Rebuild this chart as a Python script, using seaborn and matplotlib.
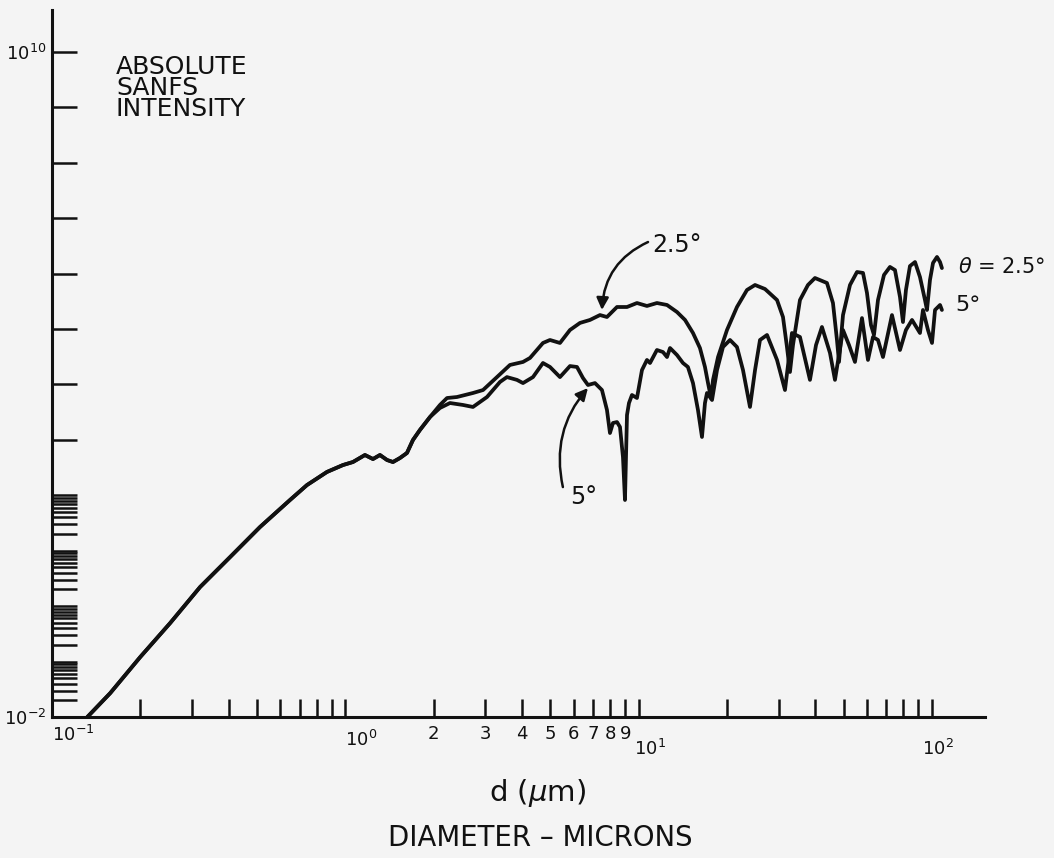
import matplotlib
matplotlib.use('Agg')
import matplotlib.pyplot as plt
import matplotlib.ticker as mticker
from matplotlib.transforms import ScaledTranslation
import numpy as np
import pandas as pd
import seaborn as sns

# diameter d (microns) and absolute SANFS intensity
# part of the curve where both angles coincide
d_common = [0.132, 0.158, 0.200, 0.253, 0.320, 0.405, 0.512, 0.648, 0.740, 0.866,
            0.982, 1.062, 1.167, 1.243, 1.313, 1.388, 1.454, 1.536, 1.623, 1.701,
            1.797, 1.945]
i_common = [1.0e-2, 2.7e-2, 0.121, 0.497, 2.22, 7.71, 26.8, 82.4, 153, 264,
            352, 399, 534, 452, 534, 434, 399, 471, 581, 995,
            1510, 2590]

# theta = 2.5 deg
d_25 = [2.103, 2.223, 2.403, 2.725, 2.949, 3.290, 3.643, 4.036, 4.264, 4.721,
        4.988, 5.395, 5.836, 6.313, 6.828, 7.386, 7.802, 8.441, 9.131, 9.874,
        10.68, 11.55, 12.50, 13.52, 14.40, 15.33, 16.19, 16.84, 17.25, 17.66,
        17.94, 18.66, 20.02, 21.65, 23.42, 24.95, 26.98, 29.65, 31.07, 32.06,
        32.82, 33.61, 35.50, 37.80, 39.94, 43.88, 46.00, 47.47, 48.23, 49.77,
        52.58, 55.55, 58.23, 60.08, 62.00, 63.48, 65.50, 68.66, 71.96, 74.85,
        77.85, 79.69, 81.58, 84.19, 87.60, 91.07, 94.73, 96.23, 98.51, 100.9,
        104.1, 106.6, 108.2]
i_25 = [4270, 5700, 5940, 7020, 7940, 13600, 22500, 25500, 30100, 56100,
        63500, 56100, 96200, 1.29e5, 1.46e5, 1.79e5, 1.65e5, 2.50e5, 2.50e5, 2.95e5,
        2.61e5, 2.95e5, 2.72e5, 2.03e5, 1.46e5, 84900, 45500, 20700, 10600, 5700,
        12100, 31300, 96200, 2.50e5, 5.07e5, 6.24e5, 5.28e5, 3.34e5, 1.65e5, 47400,
        16800, 51500, 3.34e5, 6.24e5, 8.34e5, 6.78e5, 2.95e5, 63500, 25500, 1.79e5,
        6.24e5, 1.07e6, 1.03e6, 4.48e5, 1.18e5, 78200, 3.34e5, 9.46e5, 1.32e6, 1.16e6,
        3.79e5, 1.34e5, 5.07e5, 1.37e6, 1.62e6, 8.69e5, 3.34e5, 2.21e5, 7.67e5, 1.56e6,
        2.00e6, 1.62e6, 1.26e6]

# theta = 5 deg
d_5 = [2.103, 2.275, 2.520, 2.725, 3.042, 3.369, 3.558, 3.849, 4.036, 4.365,
       4.721, 4.988, 5.395, 5.836, 6.166, 6.462, 6.722, 7.101, 7.502, 7.802,
       7.989, 8.179, 8.441, 8.642, 8.847, 8.988, 9.131, 9.275, 9.495, 9.874,
       10.27, 10.68, 10.94, 11.55, 12.11, 12.50, 12.80, 13.52, 14.17, 14.73,
       15.33, 15.94, 16.45, 16.84, 17.11, 17.80, 18.51, 19.40, 20.50, 21.65,
       22.70, 23.98, 24.95, 25.94, 27.41, 29.65, 31.56, 33.34, 35.50, 38.40,
       40.27, 42.19, 44.94, 46.73, 49.77, 52.17, 54.67, 57.77, 60.55, 62.98,
       65.50, 68.12, 73.11, 77.85, 81.58, 85.56, 91.07, 93.26, 96.98, 100.1,
       102.5, 106.6, 108.2]
i_5 = [3770, 4630, 4270, 3930, 5940, 11100, 13600, 12100, 10600, 13600,
       24400, 20700, 13600, 21500, 20700, 13100, 9790, 10600, 7940, 3470,
       1330, 2020, 2100, 1710, 491, 82.4, 2810, 4630, 6460, 5700,
       18200, 27700, 24400, 41900, 38500, 31300, 45500, 34000, 24400, 20700,
       10600, 3470, 1130, 4630, 7020, 5250, 18200, 47400, 63500, 47400,
       18200, 3930, 18200, 63500, 78200, 27700, 7940, 84900, 71900, 12100,
       51500, 1.09e5, 37000, 12100, 96200, 51500, 25500, 1.58e5, 27700, 71900,
       63500, 31300, 1.79e5, 41900, 96200, 1.46e5, 84900, 2.21e5, 96200, 56100,
       2.21e5, 2.72e5, 2.21e5]

x_major = [0.1, 1, 10, 100]
x_major_labels = ['$10^{-1}$', '$10^{0}$', '$10^{1}$', '$10^{2}$']

bg = '#f4f4f4'
ink = '#111111'

sns.set_theme(style='ticks')
plt.rcParams['font.family'] = ['DejaVu Sans']

fig = plt.figure(figsize=(10.54, 8.58), dpi=100, facecolor=bg)
ax = fig.add_axes([0.0493, 0.1643, 0.8852, 0.8240], facecolor=bg)

df25 = pd.DataFrame({'d': d_common + d_25, 'I': i_common + i_25})
df5 = pd.DataFrame({'d': d_common + d_5, 'I': i_common + i_5})
sns.lineplot(data=df25, x='d', y='I', ax=ax, color=ink, lw=2.7, sort=False, estimator=None)
sns.lineplot(data=df5, x='d', y='I', ax=ax, color=ink, lw=2.7, sort=False, estimator=None)

ax.set_xscale('log')
ax.set_yscale('log')
ax.set_xlim(0.1, 151.7)
ax.set_ylim(1e-2, 5.7e10)
ax.set_xlabel('')
ax.set_ylabel('')

for s in ['top', 'right']:
    ax.spines[s].set_visible(False)
for s in ['left', 'bottom']:
    ax.spines[s].set_linewidth(2.2)
    ax.spines[s].set_color(ink)

# x ticks
ax.xaxis.set_major_locator(mticker.FixedLocator(x_major))
ax.xaxis.set_major_formatter(mticker.FixedFormatter(x_major_labels))
ax.xaxis.set_minor_locator(mticker.LogLocator(base=10, subs=np.arange(2, 10), numticks=20))
ax.xaxis.set_minor_formatter(mticker.FuncFormatter(
    lambda v, p: '%d' % round(v) if 1.5 < v < 9.5 else ''))
ax.tick_params(axis='x', which='both', direction='in', length=13, width=1.8,
               color=ink, labelsize=13, pad=6, labelcolor=ink)

# y ticks
y_major = [10.0 ** k for k in range(-2, 11)]
y_minor = [m * 10.0 ** k for k in range(-2, 2) for m in range(2, 10)]
ax.yaxis.set_major_locator(mticker.FixedLocator(y_major))
ax.yaxis.set_minor_locator(mticker.FixedLocator(y_minor))
ax.yaxis.set_major_formatter(mticker.FuncFormatter(
    lambda v, p: {1e-2: '$10^{-2}$', 1e10: '$10^{10}$'}.get(v, '')))
ax.yaxis.set_minor_formatter(mticker.NullFormatter())
ax.tick_params(axis='y', which='both', direction='in', length=18, width=1.8,
               color=ink, labelsize=13, pad=4, labelcolor=ink)

# decade labels sit a little off their ticks in the original lettering
for lab, ha, dx, dy in zip(ax.get_xticklabels(), ['left', 'left', 'left', 'center'],
                           [0, 0, -3, 4], [0, -3, -10, -10]):
    lab.set_ha(ha)
    lab.set_transform(lab.get_transform() +
                      ScaledTranslation(dx / 72, dy / 72, fig.dpi_scale_trans))

# annotations
ax.text(0.0686, 0.937, 'ABSOLUTE\nSANFS\nINTENSITY', transform=ax.transAxes,
        ha='left', va='top', fontsize=18, linespacing=0.86, color=ink)

ax.text(11.1, 3.3e6, '2.5°', ha='left', va='center', fontsize=17, color=ink)
ax.annotate('', xy=(7.50, 2.21e5), xytext=(10.77, 3.72e6),
            arrowprops=dict(arrowstyle='-|>', color=ink, lw=1.8, mutation_scale=18,
                            shrinkA=0, shrinkB=0, connectionstyle='arc3,rad=0.3'))
ax.text(5.84, 93, '5°', ha='left', va='center', fontsize=17, color=ink)
ax.annotate('', xy=(6.72, 8630), xytext=(5.52, 141),
            arrowprops=dict(arrowstyle='-|>', color=ink, lw=1.8, mutation_scale=18,
                            shrinkA=0, shrinkB=0, connectionstyle='arc3,rad=-0.25'))
ax.text(122.7, 1.32e6, r'$\theta$ = 2.5°', ha='left', va='center', fontsize=15, color=ink)
ax.text(119.9, 2.72e5, '5°', ha='left', va='center', fontsize=16, color=ink)

fig.text(0.5095, 0.0758, r'd ($\mu$m)', ha='center', va='center', fontsize=21, color=ink)
fig.text(0.5123, 0.0233, 'DIAMETER – MICRONS', ha='center', va='center', fontsize=19.8, color=ink)

fig.savefig('out.png', dpi=100, facecolor=bg)
